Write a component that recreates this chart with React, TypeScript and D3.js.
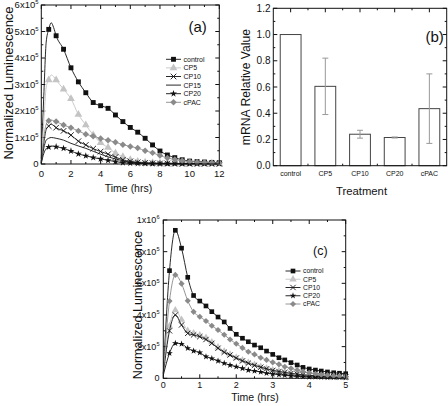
import React from "react";
import * as d3 from "d3";

// ---------- Panel (a) data (x 1e5) ----------
const timesA = [0, 0.17, 0.33, 0.5, 0.67, 0.83, 1, 1.5, 2, 2.5, 3, 3.5, 4, 4.5, 5, 5.5, 6, 6.5, 7, 7.5, 8, 8.5, 9, 9.5, 10, 10.5, 11, 11.5, 12];
const controlA = [0.2, 2.6, 4.6, 5.08, 5.33, 5.15, 4.84, 4.33, 3.63, 3.1, 2.69, 2.32, 2.2, 2.1, 1.85, 1.6, 1.38, 1.2, 0.97, 0.72, 0.49, 0.34, 0.24, 0.16, 0.11, 0.09, 0.075, 0.06, 0.05];
const cp5A = [0.1, 1.6, 2.9, 3.17, 3.36, 3.3, 3.17, 2.82, 2.46, 1.87, 1.47, 1.1, 0.8, 0.62, 0.41, 0.27, 0.16, 0.1, 0.07, 0.05, 0.04, 0.03, 0.025, 0.02, 0.02, 0.02, 0.015, 0.015, 0.01];
const cp10A = [0.05, 0.8, 1.3, 1.43, 1.5, 1.45, 1.37, 1.25, 1.09, 0.86, 0.72, 0.58, 0.47, 0.37, 0.26, 0.16, 0.1, 0.06, 0.04, 0.03, 0.02, 0.02, 0.015, 0.01, 0.01, 0.01, 0.01, 0.01, 0.01];
const cp15A = [0.05, 0.6, 0.9, 0.97, 1.0, 0.99, 0.97, 0.9, 0.78, 0.68, 0.59, 0.48, 0.37, 0.27, 0.19, 0.12, 0.07, 0.04, 0.025, 0.02, 0.015, 0.01, 0.01, 0.01, 0.01, 0.01, 0.01, 0.01, 0.01];
const cp20A = [0.03, 0.4, 0.58, 0.64, 0.68, 0.67, 0.65, 0.59, 0.49, 0.38, 0.31, 0.24, 0.19, 0.14, 0.09, 0.05, 0.03, 0.02, 0.015, 0.01, 0.01, 0.01, 0.01, 0.01, 0.01, 0.01, 0.01, 0.01, 0.01];
const cpacA = [0.05, 1.0, 1.5, 1.63, 1.66, 1.63, 1.6, 1.47, 1.37, 1.25, 1.12, 1.05, 0.96, 0.9, 0.82, 0.73, 0.66, 0.6, 0.5, 0.42, 0.32, 0.23, 0.17, 0.12, 0.09, 0.07, 0.055, 0.045, 0.04];
const xTicksA = [0, 2, 4, 6, 8, 10, 12];
const yTicksA = [0, 1, 2, 3, 4, 5, 6];

// ---------- Panel (b) data ----------
const treatments = ["control", "CP5", "CP10", "CP20", "cPAC"];
const mrnaValues = [1.0, 0.605, 0.24, 0.215, 0.435];
const mrnaErrors = [0, 0.215, 0.03, 0.004, 0.265];
const yTicksB = [0, 0.2, 0.4, 0.6, 0.8, 1.0, 1.2];

// ---------- Panel (c) data (x 1e6) ----------
const timesC = [0, 0.17, 0.33, 0.5, 0.67, 0.83, 1, 1.17, 1.33, 1.5, 1.67, 1.83, 2, 2.17, 2.33, 2.5, 2.67, 2.83, 3, 3.17, 3.33, 3.5, 3.67, 3.83, 4, 4.17, 4.33, 4.5, 4.67, 4.83, 5];
const controlC = [0.03, 0.68, 0.935, 0.822, 0.638, 0.523, 0.488, 0.457, 0.421, 0.387, 0.356, 0.315, 0.278, 0.253, 0.231, 0.21, 0.193, 0.172, 0.151, 0.13, 0.116, 0.099, 0.084, 0.069, 0.059, 0.052, 0.046, 0.04, 0.035, 0.032, 0.029];
const cp5C = [0.03, 0.33, 0.43, 0.37, 0.3, 0.285, 0.272, 0.256, 0.228, 0.196, 0.17, 0.15, 0.13, 0.114, 0.098, 0.085, 0.073, 0.062, 0.052, 0.045, 0.038, 0.032, 0.027, 0.023, 0.02, 0.017, 0.014, 0.012, 0.011, 0.01, 0.009];
const cp10C = [0.03, 0.3, 0.4, 0.337, 0.284, 0.274, 0.263, 0.245, 0.221, 0.19, 0.164, 0.147, 0.128, 0.11, 0.095, 0.082, 0.07, 0.06, 0.05, 0.043, 0.037, 0.031, 0.026, 0.022, 0.019, 0.016, 0.014, 0.012, 0.01, 0.009, 0.008];
const cp20C = [0.02, 0.158, 0.221, 0.217, 0.19, 0.173, 0.162, 0.137, 0.125, 0.11, 0.095, 0.083, 0.073, 0.063, 0.052, 0.046, 0.04, 0.032, 0.027, 0.023, 0.019, 0.015, 0.013, 0.011, 0.009, 0.008, 0.007, 0.006, 0.005, 0.005, 0.004];
const cpacC = [0.03, 0.488, 0.653, 0.598, 0.49, 0.42, 0.389, 0.362, 0.332, 0.305, 0.275, 0.245, 0.218, 0.192, 0.168, 0.151, 0.13, 0.116, 0.101, 0.088, 0.073, 0.063, 0.052, 0.042, 0.035, 0.029, 0.023, 0.019, 0.015, 0.013, 0.011];
const xTicksC = [0, 1, 2, 3, 4, 5];
const yTicksC = [0, 0.2, 0.4, 0.6, 0.8, 1.0];

// ---------- styles ----------
const FONT = "'Liberation Sans', Arial, Helvetica, sans-serif";
type Sty = { color: string; sym: string | null };
const STYLES: Record<string, Sty> = {
  control: { color: "#111", sym: "square" },
  CP5: { color: "#c4c4c4", sym: "triangle" },
  CP10: { color: "#111", sym: "x" },
  CP15: { color: "#111", sym: null },
  CP20: { color: "#111", sym: "star" },
  cPAC: { color: "#8a8a8a", sym: "diamond" },
};

function Marker({ kind, x, y, color, k = 1 }: { kind: string; x: number; y: number; color: string; k?: number }) {
  if (kind === "x") {
    const a = 2.8 * k;
    return <path d={`M${-a},${-a}L${a},${a}M${-a},${a}L${a},${-a}`} transform={`translate(${x},${y})`} stroke={color} strokeWidth={0.9} fill="none" />;
  }
  let d = "";
  let rot = 0;
  if (kind === "square") d = d3.symbol(d3.symbolSquare, 24 * k * k)() as string;
  if (kind === "triangle") d = d3.symbol(d3.symbolTriangle, 26 * k * k)() as string;
  if (kind === "star") d = d3.symbol(d3.symbolStar, 15 * k * k)() as string;
  if (kind === "diamond") { d = d3.symbol(d3.symbolSquare, 21 * k * k)() as string; rot = 45; }
  return <path d={d} transform={`translate(${x},${y}) rotate(${rot})`} fill={color} />;
}

function Frame({ l, r, t, b }: { l: number; r: number; t: number; b: number }) {
  return <rect x={l} y={t} width={r - l} height={b - t} fill="none" stroke="#111" strokeWidth={1} />;
}

function Ticks({ xs, ys, l, r, t, b, len }: { xs: number[]; ys: number[]; l: number; r: number; t: number; b: number; len: number }) {
  return (
    <g stroke="#111" strokeWidth={1}>
      {xs.map((x, i) => (
        <g key={"x" + i}>
          <line x1={x} x2={x} y1={b} y2={b - len} />
          <line x1={x} x2={x} y1={t} y2={t + len} />
        </g>
      ))}
      {ys.map((y, i) => (
        <g key={"y" + i}>
          <line x1={l} x2={l + len} y1={y} y2={y} />
          <line x1={r} x2={r - len} y1={y} y2={y} />
        </g>
      ))}
    </g>
  );
}

function SciLabel({ x, y, v, exp, size }: { x: number; y: number; v: number; exp: number; size: number }) {
  if (v === 0) return <text x={x} y={y} textAnchor="end" fontSize={size}>0</text>;
  return (
    <text x={x} y={y} textAnchor="end" fontSize={size}>
      {`${v}x10`}
      <tspan fontSize={size * 0.62} dy={-size * 0.42}>{exp}</tspan>
    </text>
  );
}

type Series = { name: string; values: number[] };

function LinePanel(props: {
  l: number; r: number; t: number; b: number;
  xMax: number; yMax: number;
  times: number[]; series: Series[]; markerStep: number;
  xTicks: number[]; xMinor: number[]; yTicks: number[]; yMinor: number[];
  exp: (v: number) => { v: number; e: number };
  tickFont: number; xLabelY: number; yTickX: number;
  legend: { x: number; y: number; step: number; font: number; names: string[] };
  tag: { text: string; x: number; y: number; size: number };
  ylab: { x: number; y: number; size: number };
  xlab: { x: number; y: number; size: number };
  mk: number;
}) {
  const p = props;
  const xs = d3.scaleLinear().domain([0, p.xMax]).range([p.l, p.r]);
  const ys = d3.scaleLinear().domain([0, p.yMax]).range([p.b, p.t]);
  const line = d3.line<number>().x((_, i) => xs(p.times[i])).y((v) => ys(v)).curve(d3.curveMonotoneX);
  const isMark = (tm: number) => tm > 0 && Math.abs(tm / p.markerStep - Math.round(tm / p.markerStep)) < 0.03;
  return (
    <g fontFamily={FONT} fill="#111">
      <Ticks xs={p.xTicks.map(xs)} ys={p.yTicks.map(ys)} l={p.l} r={p.r} t={p.t} b={p.b} len={4} />
      <Ticks xs={p.xMinor.map(xs)} ys={p.yMinor.map(ys)} l={p.l} r={p.r} t={p.t} b={p.b} len={2} />
      {p.series.map((s) => {
        const st = STYLES[s.name];
        return (
          <g key={s.name}>
            <path d={line(s.values) as string} fill="none" stroke={st.color} strokeWidth={0.9} />
            {st.sym && s.values.map((v, i) => isMark(p.times[i]) ? (
              <Marker key={i} kind={st.sym as string} x={xs(p.times[i])} y={ys(v)} color={st.color} k={p.mk} />
            ) : null)}
          </g>
        );
      })}
      <Frame l={p.l} r={p.r} t={p.t} b={p.b} />
      {p.xTicks.map((v) => (
        <text key={v} x={xs(v)} y={p.xLabelY} textAnchor="middle" fontSize={p.tickFont}>{v}</text>
      ))}
      {p.yTicks.map((v) => {
        const e = p.exp(v);
        return <SciLabel key={v} x={p.yTickX} y={ys(v) + p.tickFont * 0.35} v={e.v} exp={e.e} size={p.tickFont} />;
      })}
      {p.legend.names.map((n, i) => {
        const st = STYLES[n];
        const y = p.legend.y + i * p.legend.step;
        return (
          <g key={n}>
            <line x1={p.legend.x} x2={p.legend.x + 15} y1={y} y2={y} stroke={st.color} strokeWidth={0.9} />
            {st.sym && <Marker kind={st.sym} x={p.legend.x + 7.5} y={y} color={st.color} k={p.mk} />}
            <text x={p.legend.x + 17.5} y={y + p.legend.font * 0.36} fontSize={p.legend.font} fill="#111">{n}</text>
          </g>
        );
      })}
      <text x={p.tag.x} y={p.tag.y} fontSize={p.tag.size}>{p.tag.text}</text>
      <text transform={`translate(${p.ylab.x},${p.ylab.y}) rotate(-90)`} textAnchor="middle" fontSize={p.ylab.size}>Normalized Luminescence</text>
      <text x={p.xlab.x} y={p.xlab.y} textAnchor="middle" fontSize={p.xlab.size}>Time (hrs)</text>
    </g>
  );
}

function BarPanel() {
  const l = 273.3, r = 446.7, t = 8.3, b = 165.7;
  const x = d3.scaleBand<string>().domain(treatments).range([l, r]).paddingInner(0.4).paddingOuter(0.2);
  const y = d3.scaleLinear().domain([0, 1.2]).range([b, t]);
  const centers = treatments.map((c) => (x(c) as number) + x.bandwidth() / 2);
  const mids = centers.slice(1).map((c, i) => (c + centers[i]) / 2);
  const yMinor = [0.1, 0.3, 0.5, 0.7, 0.9, 1.1].map((v) => y(v));
  return (
    <g fontFamily={FONT} fill="#111">
      <Ticks xs={centers} ys={yTicksB.map(y)} l={l} r={r} t={t} b={b} len={4} />
      <Ticks xs={mids} ys={yMinor} l={l} r={r} t={t} b={b} len={2} />
      {treatments.map((c, i) => (
        <rect key={c} x={x(c)} y={y(mrnaValues[i])} width={x.bandwidth()} height={b - y(mrnaValues[i])} fill="#fff" stroke="#444" strokeWidth={1} />
      ))}
      {treatments.map((c, i) => mrnaErrors[i] > 0 ? (
        <g key={c} stroke="#999" strokeWidth={1}>
          <line x1={centers[i]} x2={centers[i]} y1={y(mrnaValues[i] + mrnaErrors[i])} y2={y(mrnaValues[i] - mrnaErrors[i])} />
          <line x1={centers[i] - 3} x2={centers[i] + 3} y1={y(mrnaValues[i] + mrnaErrors[i])} y2={y(mrnaValues[i] + mrnaErrors[i])} />
          <line x1={centers[i] - 3} x2={centers[i] + 3} y1={y(mrnaValues[i] - mrnaErrors[i])} y2={y(mrnaValues[i] - mrnaErrors[i])} />
        </g>
      ) : null)}
      <Frame l={l} r={r} t={t} b={b} />
      {yTicksB.map((v) => (
        <text key={v} x={270.5} y={y(v) + 3.6} textAnchor="end" fontSize={10}>{v.toFixed(1)}</text>
      ))}
      {treatments.map((c, i) => (
        <text key={c} x={centers[i]} y={176} textAnchor="middle" fontSize={7}>{c}</text>
      ))}
      <text x={425.5} y={42} fontSize={15}>(b)</text>
      <text transform="translate(250,87) rotate(-90)" textAnchor="middle" fontSize={12.2}>mRNA Relative Value</text>
      <text x={361.5} y={195} textAnchor="middle" fontSize={11.3}>Treatment</text>
    </g>
  );
}

export default function App() {
  const seriesA: Series[] = [
    { name: "control", values: controlA },
    { name: "CP5", values: cp5A },
    { name: "CP10", values: cp10A },
    { name: "CP15", values: cp15A },
    { name: "CP20", values: cp20A },
    { name: "cPAC", values: cpacA },
  ];
  const seriesC: Series[] = [
    { name: "control", values: controlC },
    { name: "CP5", values: cp5C },
    { name: "CP10", values: cp10C },
    { name: "CP20", values: cp20C },
    { name: "cPAC", values: cpacC },
  ];
  return (
    <svg width={448} height={406} style={{ position: "fixed", left: 0, top: 0, background: "#fff" }}>
      <rect width={448} height={406} fill="#fff" />
      <LinePanel
        l={41.3} r={219.3} t={5} b={164} xMax={12} yMax={6}
        times={timesA} series={seriesA} markerStep={0.5}
        xTicks={xTicksA} xMinor={[1, 3, 5, 7, 9, 11]} yTicks={yTicksA} yMinor={[0.5, 1.5, 2.5, 3.5, 4.5, 5.5]}
        exp={(v) => ({ v, e: 5 })}
        tickFont={9.5} xLabelY={176.8} yTickX={38.5}
        legend={{ x: 166, y: 59.3, step: 8.6, font: 7, names: ["control", "CP5", "CP10", "CP15", "CP20", "cPAC"] }}
        tag={{ text: "(a)", x: 188.5, y: 32, size: 15 }}
        ylab={{ x: 13, y: 83, size: 13 }}
        xlab={{ x: 128.5, y: 192, size: 10.5 }}
        mk={1}
      />
      <BarPanel />
      <LinePanel
        l={163.3} r={345.7} t={220} b={378.3} xMax={5} yMax={1}
        times={timesC} series={seriesC} markerStep={1 / 6}
        xTicks={xTicksC} xMinor={[0.5, 1.5, 2.5, 3.5, 4.5]} yTicks={yTicksC} yMinor={[0.1, 0.3, 0.5, 0.7, 0.9]}
        exp={(v) => (v === 1 ? { v: 1, e: 6 } : { v: Math.round(v * 10), e: 5 })}
        tickFont={9} xLabelY={388} yTickX={159.5}
        legend={{ x: 285.5, y: 271, step: 8.25, font: 6.8, names: ["control", "CP5", "CP10", "CP20", "cPAC"] }}
        tag={{ text: "(c)", x: 313, y: 254.5, size: 12.5 }}
        ylab={{ x: 142, y: 305, size: 12.6 }}
        xlab={{ x: 255, y: 401, size: 10.5 }}
        mk={0.95}
      />
    </svg>
  );
}
